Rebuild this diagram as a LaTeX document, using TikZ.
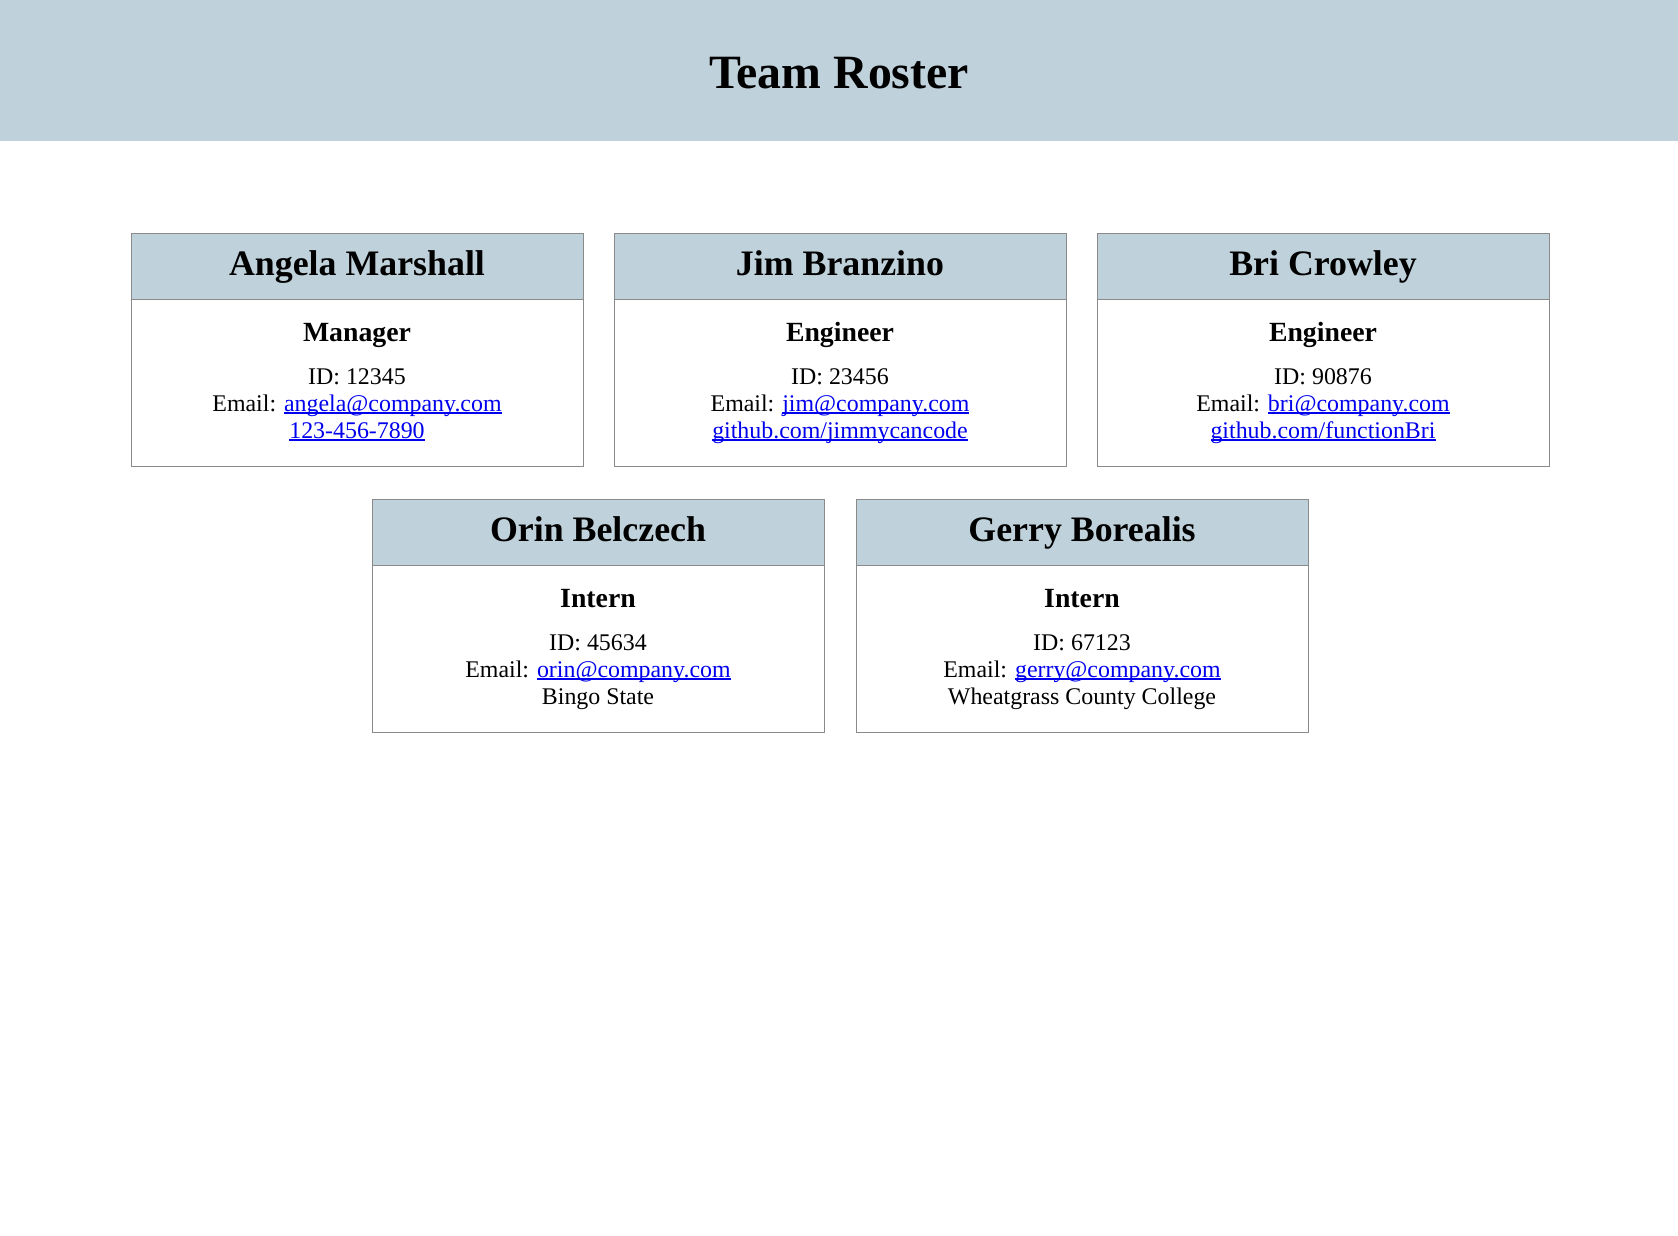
\documentclass[tikz,border=0pt]{standalone}
\usepackage{fontspec}
\setmainfont{Liberation Serif}
\usepackage{tikz}
\definecolor{bandblue}{RGB}{191,209,218}
\definecolor{cardline}{RGB}{138,138,138}
\definecolor{linkblue}{RGB}{0,0,238}
\newcommand{\weblink}[1]{{\color{linkblue}\setbox0\hbox{#1}\rlap{\rule[-1.5pt]{\wd0}{0.7pt}}\box0}}
\tikzset{
card/.style={rectangle, draw=cardline, line width=0.8pt, fill=white, minimum width=9.04cm, minimum height=4.66cm, anchor=north west, inner sep=0pt},
cardhead/.style={rectangle, draw=cardline, line width=0.8pt, fill=bandblue, minimum width=9.04cm, minimum height=1.32cm, anchor=north west, inner sep=0pt},
nametext/.style={anchor=base, inner sep=0pt, font=\fontsize{20.4}{24}\selectfont\bfseries},
roletext/.style={anchor=base, inner sep=0pt, font=\fontsize{15.8}{19}\selectfont\bfseries},
infotext/.style={anchor=base, inner sep=0pt, font=\fontsize{13.6}{16}\selectfont}
}

\begin{document}
\begin{tikzpicture}[x=0.02cm, y=-0.02cm]
\useasboundingbox (0,0) rectangle (1678,1235);
\fill[bandblue] (0,0) rectangle (1678,141);
\node[anchor=base, inner sep=0pt, font=\fontsize{27.2}{32}\selectfont\bfseries] (title) at (839,88) {Team Roster};

% first row
\node[card] (angela) at (131,233) {};
\node[cardhead] (angelahead) at (131,233) {};
\node[nametext] (angelaname) at (357,275) {Angela Marshall};
\node[roletext] (angelarole) at (357,341) {Manager};
\node[infotext] (angelaid) at (357,384) {ID: 12345};
\node[infotext] (angelamail) at (357,411) {Email: \weblink{angela@company.com}};
\node[infotext] (angelaphone) at (357,438) {\weblink{123-456-7890}};

\node[card] (jim) at (614,233) {};
\node[cardhead] (jimhead) at (614,233) {};
\node[nametext] (jimname) at (840,275) {Jim Branzino};
\node[roletext] (jimrole) at (840,341) {Engineer};
\node[infotext] (jimid) at (840,384) {ID: 23456};
\node[infotext] (jimmail) at (840,411) {Email: \weblink{jim@company.com}};
\node[infotext] (jimgit) at (840,438) {\weblink{github.com/jimmycancode}};

\node[card] (bri) at (1097,233) {};
\node[cardhead] (brihead) at (1097,233) {};
\node[nametext] (briname) at (1323,275) {Bri Crowley};
\node[roletext] (brirole) at (1323,341) {Engineer};
\node[infotext] (briid) at (1323,384) {ID: 90876};
\node[infotext] (brimail) at (1323,411) {Email: \weblink{bri@company.com}};
\node[infotext] (brigit) at (1323,438) {\weblink{github.com/functionBri}};

% second row
\node[card] (orin) at (372,499) {};
\node[cardhead] (orinhead) at (372,499) {};
\node[nametext] (orinname) at (598,541) {Orin Belczech};
\node[roletext] (orinrole) at (598,607) {Intern};
\node[infotext] (orinid) at (598,650) {ID: 45634};
\node[infotext] (orinmail) at (598,677) {Email: \weblink{orin@company.com}};
\node[infotext] (orinschool) at (598,704) {Bingo State};

\node[card] (gerry) at (856,499) {};
\node[cardhead] (gerryhead) at (856,499) {};
\node[nametext] (gerryname) at (1082,541) {Gerry Borealis};
\node[roletext] (gerryrole) at (1082,607) {Intern};
\node[infotext] (gerryid) at (1082,650) {ID: 67123};
\node[infotext] (gerrymail) at (1082,677) {Email: \weblink{gerry@company.com}};
\node[infotext] (gerryschool) at (1082,704) {Wheatgrass County College};
\end{tikzpicture}
\end{document}
